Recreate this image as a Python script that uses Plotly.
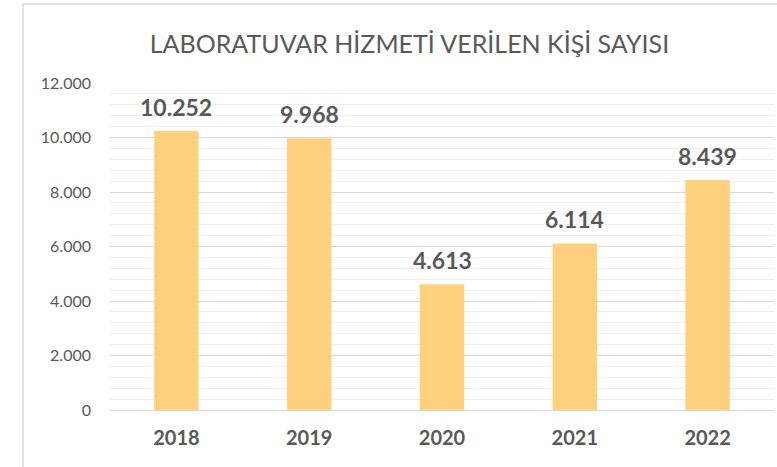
import plotly.graph_objects as go

years = ["2018", "2019", "2020", "2021", "2022"]
values = [10252, 9968, 4613, 6114, 8439]
tick_vals = [0, 2000, 4000, 6000, 8000, 10000, 12000]

FONT = "Lato, Open Sans, sans-serif"
GREY = "#595959"

fig = go.Figure(go.Bar(
    x=years, y=values, marker=dict(color="#FFD17F", line=dict(width=0)),
    hoverinfo="skip",
))

# category axes place annotations by serial index of the category
annotations = [
    dict(x=i, y=v, xref="x", yref="y", text=f"{v:,}".replace(",", "."),
         showarrow=False, yanchor="bottom", yshift=8,
         font=dict(family=FONT, size=23, color=GREY, weight="bold"))
    for i, v in enumerate(values)
]

fig.update_layout(
    width=777, height=467,
    margin=dict(l=110, r=3, t=83, b=57),
    paper_bgcolor="white", plot_bgcolor="white",
    separators=",.",
    bargap=0.665,
    showlegend=False,
    annotations=annotations,
    title=dict(text="LABORATUVAR HİZMETİ VERİLEN KİŞİ SAYISI", x=0.527, xanchor="center",
               y=0.905, yanchor="middle",
               font=dict(family=FONT, size=25, color=GREY, weight=400)),
    xaxis=dict(type="category", range=[-0.5, len(years) - 0.5],
               showline=True, linecolor="#D9D9D9", linewidth=1, ticks="",
               ticklabelstandoff=10,
               tickfont=dict(family=FONT, size=20, color=GREY, weight="bold")),
    yaxis=dict(range=[0, 12000], tickvals=tick_vals, tickformat=",d",
               showgrid=True, gridcolor="#D9D9D9", gridwidth=1, zeroline=False,
               ticks="", ticklabelstandoff=18,
               tickfont=dict(family=FONT, size=16, color=GREY),
               minor=dict(dtick=400, tick0=0, showgrid=True, gridcolor="#EEEEEE", gridwidth=1)),
    shapes=[dict(type="rect", xref="paper", yref="paper", x0=-0.131, x1=1.05, y0=-0.25, y1=1.2416,
                 line=dict(color="#D9D9D9", width=1.5), fillcolor="rgba(0,0,0,0)", layer="below")],
)

fig.write_html("out.html", config={"displayModeBar": False},
               post_script="document.body.style.margin='0';")
